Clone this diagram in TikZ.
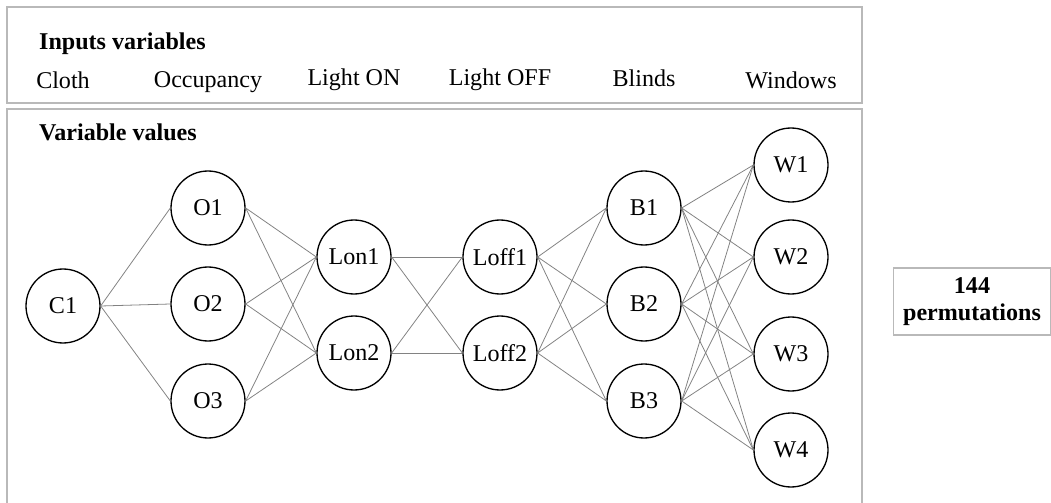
\documentclass[tikz,border=0pt]{standalone}
\usepackage{fontspec}
\setmainfont{Liberation Serif}
\usepackage{tikz}
\usetikzlibrary{shapes,arrows}
\usepackage{xcolor}

\definecolor{boxgray}{RGB}{185,185,185}
\definecolor{edgegray}{RGB}{130,130,130}

\tikzset{
	val/.style={circle, draw=black, line width=0.75pt, minimum size=1.48cm, inner sep=0pt, font=\fontsize{13.7}{16}\selectfont},
	frame/.style={draw=boxgray, line width=0.7pt},
	link/.style={draw=edgegray, line width=0.45pt},
	lab/.style={font=\fontsize{13.7}{16}\selectfont},
	head/.style={font=\fontsize{13.7}{16}\selectfont\bfseries, anchor=west}
}

\begin{document}
\begin{tikzpicture}[x=0.02cm, y=-0.02cm]
		\useasboundingbox (0,0) rectangle (1051,503);
		% frames
		\draw[frame] (7,7) rectangle (862,103);
		\draw[frame] (7,503) -- (7,109) -- (862,109) -- (862,503);
		\node[frame, minimum width=3.14cm, minimum height=1.34cm, inner sep=0pt, align=center, font=\fontsize{13.7}{15}\selectfont\bfseries] (perm) at (972,301.5) {144\\permutations};
		% headings
		\node[head] (hin) at (33,44) {Inputs variables};
		\node[head] (hval) at (33,132) {Variable values};
		\node[lab] (tcloth) at (63,80) {Cloth};
		\node[lab] (tocc) at (208,82) {Occupancy};
		\node[lab] (tlon) at (354,80) {Light ON};
		\node[lab] (tloff) at (500,80) {Light OFF};
		\node[lab] (tblind) at (644,78) {Blinds};
		\node[lab] (twin) at (791,80) {Windows};
		% values
		\node[val] (C1) at (63,306) {C1};
		\node[val] (O1) at (208,208) {O1};
		\node[val] (O2) at (208,304) {O2};
		\node[val] (O3) at (208,401) {O3};
		\node[val] (Lon1) at (354,257) {Lon1};
		\node[val] (Lon2) at (354,353) {Lon2};
		\node[val] (Loff1) at (500,257) {Loff1};
		\node[val] (Loff2) at (500,353) {Loff2};
		\node[val] (B1) at (644,208) {B1};
		\node[val] (B2) at (644,304) {B2};
		\node[val] (B3) at (644,401) {B3};
		\node[val] (W1) at (791,165) {W1};
		\node[val] (W2) at (791,257) {W2};
		\node[val] (W3) at (791,354) {W3};
		\node[val] (W4) at (791,450) {W4};
		% links
		\foreach \b in {O1,O2,O3}
			\draw[link] (C1.east) -- (\b.west);
		\foreach \a in {O1,O2,O3}
			\foreach \b in {Lon1,Lon2}
				\draw[link] (\a.east) -- (\b.west);
		\foreach \a in {Lon1,Lon2}
			\foreach \b in {Loff1,Loff2}
				\draw[link] (\a.east) -- (\b.west);
		\foreach \a in {Loff1,Loff2}
			\foreach \b in {B1,B2,B3}
				\draw[link] (\a.east) -- (\b.west);
		\foreach \a in {B1,B2,B3}
			\foreach \b in {W1,W2,W3,W4}
				\draw[link] (\a.east) -- (\b.west);
		\end{tikzpicture}
\end{document}
